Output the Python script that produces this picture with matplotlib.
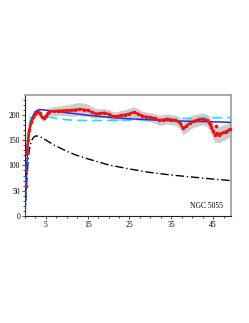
import matplotlib
matplotlib.use("Agg")
import matplotlib.pyplot as plt
from matplotlib.ticker import MultipleLocator, FixedLocator

# Observed rotation curve (km/s) with uncertainty band
r_obs = [0.4, 0.7, 1.0, 1.5, 2.0, 2.5, 3.0, 3.5, 4.0, 4.5, 5.0, 5.5, 6.0, 7.0, 8.0, 9.0,
         10.0, 11.0, 12.0, 13.0, 14.0, 15.0, 16.0, 17.0, 18.0, 19.0, 20.0, 21.0, 22.0, 23.0,
         24.0, 25.0, 26.0, 27.0, 28.0, 29.0, 30.0, 31.0, 32.0, 33.0, 34.0, 35.0, 36.0, 37.0,
         37.8, 38.5, 39.5, 40.5, 41.5, 42.5, 43.5, 44.0, 44.5, 45.0, 45.5, 46.0, 46.5, 47.0,
         47.5, 48.0, 48.5, 49.0]
v_obs = [125, 150, 170, 185, 195, 202, 206, 203, 196, 193, 197, 204, 207, 207, 208, 208,
         209, 209, 210, 211, 210, 209, 205, 202, 203, 204, 201, 197, 197, 199,
         200, 202, 205, 202, 198, 196, 195, 193, 189, 190, 192, 190, 189, 184,
         173, 177, 184, 188, 190, 192, 189, 185, 176, 168, 160, 163, 160, 163,
         165, 166, 169, 171]
v_err = [7, 7, 7, 7, 7, 7, 7, 7, 7, 7, 7, 7, 8, 9, 9, 10,
         11, 12, 13, 13, 13, 12, 11, 10, 9, 9, 9, 9, 9, 10,
         10, 11, 11, 10, 9, 9, 9, 9, 10, 10, 10, 10, 10, 11,
         12, 13, 13, 12, 12, 12, 12, 13, 14, 15, 16, 16, 16, 16,
         16, 15, 15, 15]
r_extra = [0.15, 0.25, 44.3, 45.8]
v_extra = [60, 90, 182, 178]

# Model curves
r_mod = [0, 0.25, 0.5, 0.75, 1, 1.5, 2, 2.5, 3, 3.5, 4, 5, 6, 7, 8, 10, 12, 15, 20, 25,
         30, 35, 40, 45, 49.3]
v_total = [0, 60, 110, 145, 165, 188, 200, 206, 209, 210, 210, 209, 208, 207, 206, 204,
           202, 199, 195, 192, 190, 188, 187, 186, 185]
v_alt = [0, 70, 125, 160, 180, 198, 205, 206, 204, 202, 200, 197, 195, 193.5, 192, 190,
         189, 188.5, 188.5, 189.5, 190.5, 192, 193, 194, 194.5]
v_bary = [0, 40, 80, 110, 130, 148, 155, 158, 158, 157, 155, 150, 145, 140, 136, 128,
          121, 113, 101, 93, 86, 81, 77, 73, 70]

x_ticks = [5, 15, 25, 35, 45]
y_ticks = [0, 50, 100, 150, 200]
label = "NGC 5055"

plt.rcParams['font.family'] = ['Liberation Serif', 'DejaVu Serif']

fig = plt.figure(figsize=(2.49, 3.23), dpi=100)
ax = fig.add_axes([0.1004, 0.331, 0.8276, 0.375])

lo = [v - e for v, e in zip(v_obs, v_err)]
hi = [v + e for v, e in zip(v_obs, v_err)]
ax.fill_between(r_obs, lo, hi, color='#cdcdcd', lw=0, zorder=1)
ax.plot(r_mod, v_bary, color='black', ls=(0, (6, 2, 1, 2)), lw=1.0, zorder=2)
ax.plot(r_mod, v_alt, color='#22e0f0', ls=(0, (6, 3)), lw=1.2, zorder=3)
ax.plot(r_mod, v_total, color='#2b2bdd', ls='-', lw=1.1, zorder=4)
ax.plot(r_obs, v_obs, color='#ee1111', ls='-', lw=1.7, marker='o', ms=1.5, zorder=5)
ax.plot(r_extra, v_extra, color='#ee1111', ls='none', marker='o', ms=1.6, zorder=5)

ax.set_xlim(0, 49.3)
ax.set_ylim(0, 239)
ax.xaxis.set_major_locator(FixedLocator(x_ticks))
ax.xaxis.set_minor_locator(MultipleLocator(2.5))
ax.yaxis.set_major_locator(FixedLocator(y_ticks))
ax.yaxis.set_minor_locator(MultipleLocator(10))
ax.tick_params(which='both', direction='out', labelsize=5.5, pad=1.5, width=0.6, color='#333333')
ax.tick_params(which='major', length=2)
ax.tick_params(which='minor', length=1.5)
for s in ['left', 'bottom']:
    ax.spines[s].set_color('#222222')
    ax.spines[s].set_linewidth(0.8)
for s in ['top', 'right']:
    ax.spines[s].set_color('#999999')
    ax.spines[s].set_linewidth(1.2)

ax.text(43.5, 20, label, fontsize=5.5, ha='center', va='center')

fig.savefig('out.png', dpi=100)
